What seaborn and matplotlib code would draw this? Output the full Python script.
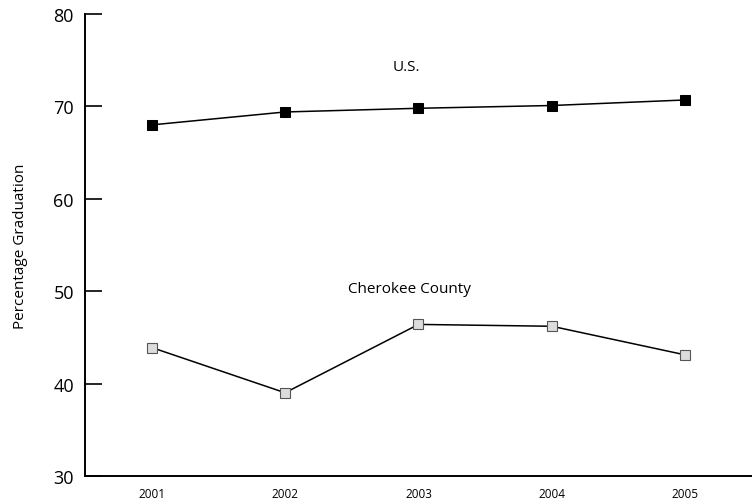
import matplotlib
matplotlib.use('Agg')
import matplotlib.pyplot as plt
import seaborn as sns
import pandas as pd

# Data
years = [2001, 2002, 2003, 2004, 2005]
us_rates = [68.0, 69.4, 69.8, 70.1, 70.7]
cherokee_rates = [43.9, 39.0, 46.4, 46.2, 43.1]
y_ticks = [30, 40, 50, 60, 70, 80]

sns.set_style('white')
plt.rcParams['font.family'] = ['Open Sans', 'DejaVu Sans']
plt.rcParams['text.color'] = 'black'
plt.rcParams['axes.labelcolor'] = 'black'

df_us = pd.DataFrame({'year': years, 'rate': us_rates})
df_ck = pd.DataFrame({'year': years, 'rate': cherokee_rates})

fig = plt.figure(figsize=(7.52, 5.02), dpi=100)
ax = fig.add_axes([0.113, 0.05, 0.887, 0.92])

sns.lineplot(data=df_us, x='year', y='rate', ax=ax, color='black', linewidth=1.1,
             marker='s', markersize=7, markerfacecolor='black', markeredgecolor='black')
sns.lineplot(data=df_ck, x='year', y='rate', ax=ax, color='black', linewidth=1.1,
             marker='s', markersize=7, markerfacecolor='#dcdcdc', markeredgecolor='#555555',
             markeredgewidth=0.8)

ax.text(2002.91, 74.3, 'U.S.', ha='center', va='center', fontsize=11)
ax.text(2002.93, 50.3, 'Cherokee County', ha='center', va='center', fontsize=11)

ax.set_xlim(2000.5, 2005.5)
ax.set_ylim(30, 80)
ax.set_xticks(years)
ax.set_xticklabels([str(y) for y in years], fontsize=8.5)
ax.set_yticks(y_ticks)
ax.set_yticklabels([str(t) for t in y_ticks], fontsize=13)
ax.tick_params(axis='y', left=True, direction='in', length=12, width=1.2, pad=8,
               colors='black')
ax.tick_params(axis='x', bottom=False, length=0, pad=8, colors='black')

ax.set_xlabel('')
ax.set_ylabel('Percentage Graduation', fontsize=11, labelpad=18)

for side in ['top', 'right']:
    ax.spines[side].set_visible(False)
for side in ['left', 'bottom']:
    ax.spines[side].set_color('black')
    ax.spines[side].set_linewidth(1.4)

fig.savefig('out.png', dpi=100)
